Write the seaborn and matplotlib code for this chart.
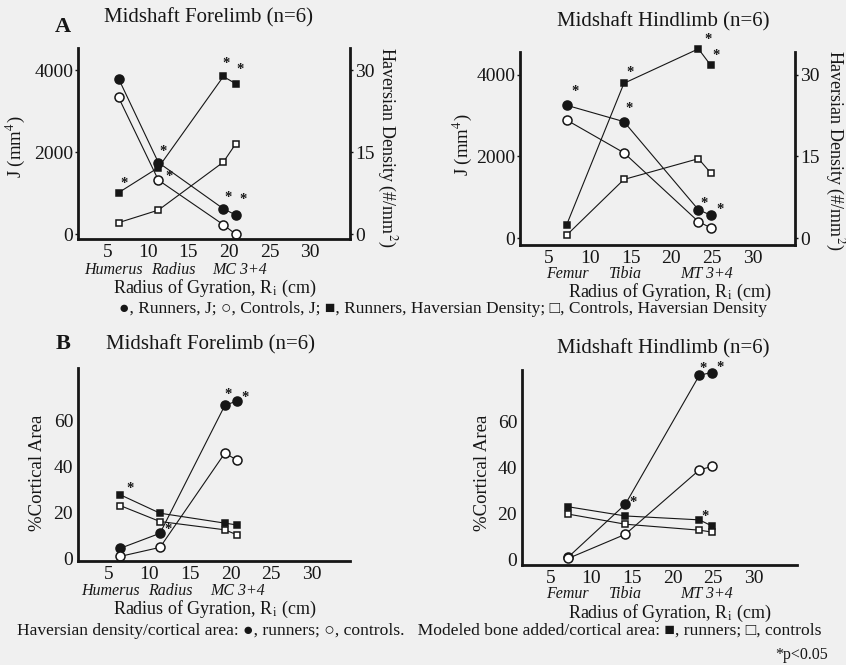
"""
Midshaft forelimb / hindlimb: J, Haversian density and % cortical area
versus radius of gyration, runners vs controls.
"""
import seaborn as sns
import matplotlib.pyplot as plt

sns.set_style("white")
plt.rcParams['font.family'] = ['Liberation Serif', 'DejaVu Serif']
plt.rcParams['mathtext.fontset'] = 'stix'
plt.rcParams['axes.facecolor'] = 'none'

"""
Data read off the figure
"""
# radius of gyration (cm) of each bone site
fore_x = [6.4, 11.3, 19.3, 20.8]      # humerus, radius, MC3, MC4
hind_x = [7.2, 14.2, 23.3, 24.8]      # femur, tibia, MT3, MT4
fore_bones = ["Humerus", "Radius", "MC 3+4"]
hind_bones = ["Femur", "Tibia", "MT 3+4"]

# panel A: polar moment of inertia J (mm^4)
run_j_fore = [3800, 1750, 620, 470]
con_j_fore = [3340, 1320, 230, 0]
run_j_hind = [3250, 2850, 700, 570]
con_j_hind = [2890, 2090, 410, 260]

# panel A: Haversian density (#/mm^2)
run_hd_fore = [7.6, 12.2, 28.9, 27.6]
con_hd_fore = [2.1, 4.4, 13.2, 16.5]
run_hd_hind = [2.5, 28.4, 34.7, 31.7]
con_hd_hind = [0.6, 10.8, 14.6, 12.0]

# panel B: Haversian density / cortical area (%)
run_hdca_fore = [4.5, 11.0, 66.5, 68.3]
con_hdca_fore = [1.0, 4.9, 45.8, 42.6]
run_hdca_hind = [1.0, 24.0, 80.3, 81.5]
con_hdca_hind = [0.4, 10.9, 39.0, 40.5]

# panel B: modeled bone added / cortical area (%)
run_mod_fore = [27.7, 19.7, 15.4, 14.6]
con_mod_fore = [23.0, 16.1, 12.5, 10.3]
run_mod_hind = [22.9, 18.9, 17.2, 14.6]
con_mod_hind = [19.7, 15.3, 12.7, 11.9]

x_ticks = [5, 10, 15, 20, 25, 30]
j_ticks = [0, 2000, 4000]
hd_ticks = [0, 15, 30]
ca_ticks = [0, 20, 40, 60]
J_TO_HD = 30 / 4000

"""
Figure
"""
W, H = 846, 665
BG = '#f0f0f0'
INK = '#161616'
fig = plt.figure(figsize=(W / 100, H / 100), dpi=100, facecolor=BG)


def px(x, y):
    return x / W, 1 - y / H


def make_axes(left, top, right, bottom):
    l, t = px(left, top)
    r, b = px(right, bottom)
    return fig.add_axes([l, b, r - l, t - b])


def series(ax, x, y, marker, filled, ms):
    sns.lineplot(x=x, y=y, ax=ax, sort=False, color=INK, lw=0.8,
                 marker=marker, markersize=ms, markeredgecolor=INK,
                 markeredgewidth=1.1,
                 markerfacecolor=INK if filled else 'white',
                 clip_on=False)


def star(ax, x, y, dx, dy):
    ax.annotate('*', xy=(x, y), xytext=(dx * 0.72, -dy * 0.72),
                textcoords='offset points', ha='center', va='center',
                fontsize=10.5, color=INK, fontweight='bold', annotation_clip=False)


def style_axis(ax, xlim, ylim, yticks):
    ax.set_xlim(*xlim)
    ax.set_ylim(*ylim)
    ax.set_xticks(x_ticks)
    ax.set_yticks(yticks)
    ax.tick_params(labelsize=14, colors=INK, length=2, width=1, pad=1.5)
    for s in ['top', 'right']:
        ax.spines[s].set_visible(False)
    for s in ['left', 'bottom']:
        ax.spines[s].set_linewidth(2)
        ax.spines[s].set_color(INK)
    ax.set_xlabel('')
    ax.set_ylabel('')


def panel_a(box, x, run_j, con_j, run_hd, con_hd, xlim, jlim, stars_j, stars_hd):
    ax = make_axes(*box)
    style_axis(ax, xlim, jlim, j_ticks)
    ax2 = ax.twinx()
    ax2.set_ylim(jlim[0] * J_TO_HD, jlim[1] * J_TO_HD)
    ax2.set_yticks(hd_ticks)
    ax2.tick_params(labelsize=14, colors=INK, length=2, width=1, pad=2)
    for s in ['top', 'left', 'bottom']:
        ax2.spines[s].set_visible(False)
    ax2.spines['right'].set_linewidth(2)
    ax2.spines['right'].set_color(INK)

    series(ax, x, run_j, 'o', True, 6.5)
    series(ax, x, con_j, 'o', False, 6.5)
    series(ax2, x, run_hd, 's', True, 5)
    series(ax2, x, con_hd, 's', False, 5)
    ax2.set_ylabel('')
    for i, dx, dy in stars_j:
        star(ax, x[i], run_j[i], dx, dy)
    for i, dx, dy in stars_hd:
        star(ax2, x[i], run_hd[i], dx, dy)
    return ax


def panel_b(box, x, run_ca, con_ca, run_mod, con_mod, xlim, ylim, stars_ca, stars_mod):
    ax = make_axes(*box)
    style_axis(ax, xlim, ylim, ca_ticks)
    series(ax, x, run_mod, 's', True, 5)
    series(ax, x, con_mod, 's', False, 5)
    series(ax, x, run_ca, 'o', True, 6.5)
    series(ax, x, con_ca, 'o', False, 6.5)
    for i, dx, dy in stars_ca:
        star(ax, x[i], run_ca[i], dx, dy)
    for i, dx, dy in stars_mod:
        star(ax, x[i], run_mod[i], dx, dy)
    return ax


# ---- panel A
panel_a((78, 48, 350, 239), fore_x, run_j_fore, con_j_fore, run_hd_fore, con_hd_fore,
        (1.4, 34.9), (-120, 4550),
        [(1, 5, -11), (2, 5, -11), (3, 8, -15)],
        [(0, 5, -9), (1, 11, 9), (2, 3, -13), (3, 5, -14)])
panel_a((520, 52, 795, 245), hind_x, run_j_hind, con_j_hind, run_hd_hind, con_hd_hind,
        (1.5, 35.1), (-160, 4550),
        [(0, 8, -14), (1, 5, -13), (2, 6, -6), (3, 9, -6)],
        [(1, 6, -11), (2, 10, -9), (3, 5, -10)])

# ---- panel B
panel_b((78, 368, 350, 561), fore_x, run_hdca_fore, con_hdca_fore, run_mod_fore, con_mod_fore,
        (1.2, 34.7), (-1, 82.6),
        [(1, 8, -4), (2, 3, -11), (3, 8, -4)],
        [(0, 10, -6)])
panel_b((522, 370, 797, 565), hind_x, run_hdca_hind, con_hdca_hind, run_mod_hind, con_mod_hind,
        (1.5, 35.3), (-2.5, 82.6),
        [(1, 8, -2), (2, 4, -7), (3, 9, -5)],
        [(2, 6, -3)])

"""
Text
"""
def txt(x, y, s, **kw):
    kw.setdefault('ha', 'center')
    kw.setdefault('va', 'center')
    kw.setdefault('color', INK)
    fig.text(*px(x, y), s, **kw)


txt(63, 27, 'A', fontsize=16, fontweight='bold')
txt(63, 344, 'B', fontsize=16, fontweight='bold')
txt(208, 18, 'Midshaft Forelimb (n=6)', fontsize=15)
txt(663, 22, 'Midshaft Hindlimb (n=6)', fontsize=15)
txt(210, 345, 'Midshaft Forelimb (n=6)', fontsize=15)
txt(663, 349, 'Midshaft Hindlimb (n=6)', fontsize=15)

txt(15, 147, 'J (mm$^4$)', fontsize=13.5, rotation=90)
txt(462, 145, 'J (mm$^4$)', fontsize=13.5, rotation=90)
txt(387, 147, 'Haversian Density (#/mm$^2$)', fontsize=13, rotation=270)
txt(835, 150, 'Haversian Density (#/mm$^2$)', fontsize=13, rotation=270)
txt(37, 473, '%Cortical Area', fontsize=13.5, rotation=90)
txt(482, 473, '%Cortical Area', fontsize=13.5, rotation=90)

for (lx, ly, names) in [((113, 173, 240), 270, fore_bones),
                        ((567, 625, 707), 273.5, hind_bones),
                        ((110, 170, 238), 591, fore_bones),
                        ((567, 625, 707), 594, hind_bones)]:
    for xx, name in zip(lx, names):
        txt(xx, ly, name, fontsize=11.5, style='italic')

xlab = 'Radius of Gyration, R$_\\mathrm{i}$ (cm)'
txt(215, 288, xlab, fontsize=13)
txt(670, 292, xlab, fontsize=13)
txt(215, 609, xlab, fontsize=13)
txt(670, 613, xlab, fontsize=13)

txt(443, 309, '\u25cf, Runners, J; \u25cb, Controls, J; \u25a0, Runners, Haversian Density; '
              '\u25a1, Controls, Haversian Density', fontsize=12.5)
txt(419, 631, 'Haversian density/cortical area: \u25cf, runners; \u25cb, controls.   '
              'Modeled bone added/cortical area: \u25a0, runners; \u25a1, controls', fontsize=12.6)
txt(828, 655, '*p<0.05', fontsize=11.5, ha='right')

plt.savefig('out.png', dpi=100, facecolor=BG)
